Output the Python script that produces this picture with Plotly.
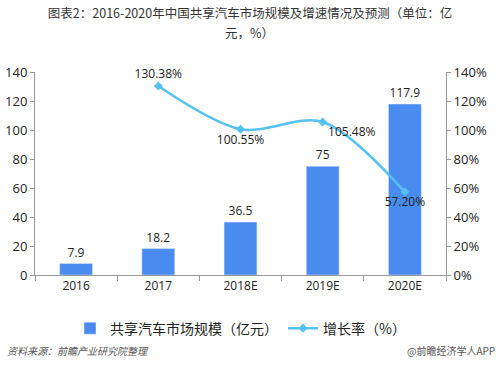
import plotly.graph_objects as go

categories = ["2016", "2017", "2018E", "2019E", "2020E"]
market_size = [7.9, 18.2, 36.5, 75, 117.9]
growth_cats = ["2017", "2018E", "2019E", "2020E"]
growth_rate = [130.38, 100.55, 105.48, 57.20]
growth_labels = ["130.38%", "100.55%", "105.48%", "57.20%"]
left_ticks = [0, 20, 40, 60, 80, 100, 120, 140]
right_ticks = [0, 20, 40, 60, 80, 100, 120, 140]
right_tick_text = [f"{v}%" for v in right_ticks]

FONT = "Noto Sans CJK SC, Open Sans, sans-serif"
NUMFONT = "Open Sans, sans-serif"
BAR_C = "#4A8BF0"
LINE_C = "#55C1F0"

fig = go.Figure()
fig.add_trace(go.Bar(
    x=categories, y=market_size, name="共享汽车市场规模（亿元）",
    marker=dict(color=BAR_C), width=0.4,
    text=[f"{v:g}" for v in market_size], textposition="outside",
    textfont=dict(size=12, color="#222", family=NUMFONT),
    cliponaxis=False,
))
fig.add_trace(go.Scatter(
    x=growth_cats, y=growth_rate, name="增长率（%）", yaxis="y2",
    mode="lines+markers+text",
    line=dict(color=LINE_C, width=2.5, shape="spline", smoothing=0.9),
    marker=dict(symbol="diamond", size=7, color=LINE_C),
    text=growth_labels,
    textposition=["top center", "bottom center", "bottom right", "bottom center"],
    textfont=dict(size=12, color="#222", family=NUMFONT),
    cliponaxis=False,
))

axis_common = dict(
    showgrid=False, showline=True, linecolor="#999", linewidth=1,
    ticks="outside", ticklen=4, tickcolor="#999",
    tickfont=dict(size=13, color="#222", family=NUMFONT),
    zeroline=False, automargin=False,
)

fig.update_layout(
    width=500, height=366,
    margin=dict(l=35, r=54, t=72, b=91, autoexpand=False),
    paper_bgcolor="white", plot_bgcolor="white",
    font=dict(family=FONT, color="#333"),
    title=dict(
        text="图表2：2016-2020年中国共享汽车市场规模及增速情况及预测（单位：亿",
        x=0.5, xanchor="center", xref="container", y=1 - 13.5 / 366, yanchor="middle", yref="container",
        font=dict(size=12.5, color="#333", family=FONT),
        automargin=False,
    ),
    xaxis=dict(
        showgrid=False, showline=True, linecolor="#999", linewidth=1,
        ticks="outside", tickson="boundaries", ticklen=5, tickcolor="#999",
        tickfont=dict(size=12, color="#222", family=NUMFONT),
        automargin=False,
    ),
    yaxis=dict(range=[0, 140], tickvals=left_ticks, **axis_common),
    yaxis2=dict(
        range=[0, 140], tickvals=right_ticks, ticktext=right_tick_text,
        overlaying="y", side="right", **axis_common,
    ),
    legend=dict(
        orientation="h", x=0.5, xanchor="center", y=-0.185, yanchor="top",
        font=dict(size=14, color="#222", family=FONT),
        traceorder="normal",
    ),
    showlegend=True,
)

# second line of the title
fig.add_annotation(
    text="元，%）", xref="paper", yref="paper",
    x=(249 - 35) / 411, y=(275 - 32) / 203, xanchor="center", yanchor="middle",
    showarrow=False, font=dict(size=12.5, color="#333", family=FONT),
)
fig.add_annotation(
    text="<i>资料来源：前瞻产业研究院整理</i>", xref="paper", yref="paper",
    x=-0.073, y=-0.37, xanchor="left", yanchor="middle", showarrow=False,
    font=dict(size=10, color="#555", family=FONT),
)
fig.add_annotation(
    text="@前瞻经济学人APP", xref="paper", yref="paper",
    x=1.124, y=-0.37, xanchor="right", yanchor="middle", showarrow=False,
    font=dict(size=10, color="#555", family=FONT),
)

fig.write_html("out.html", config={"displayModeBar": False},
               post_script="document.body.style.margin='0';")
